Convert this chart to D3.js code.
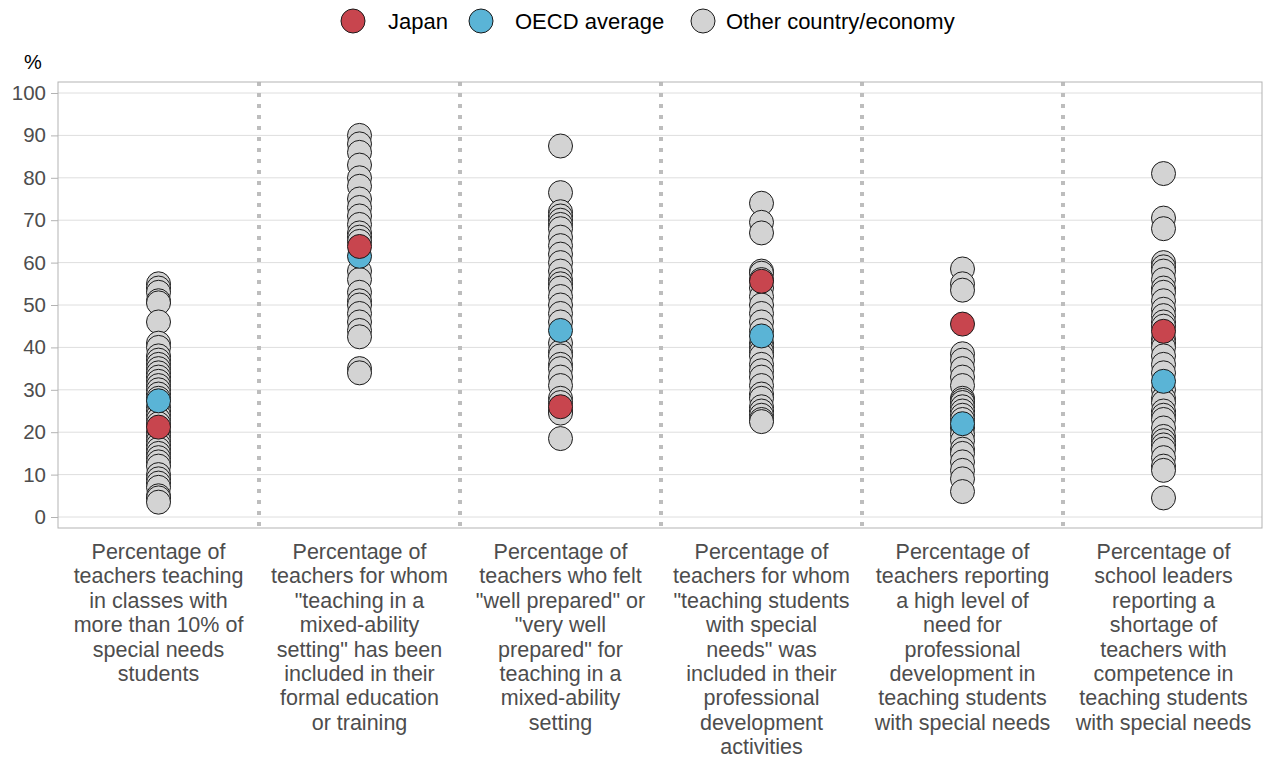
<!DOCTYPE html>
<html><head><meta charset="utf-8">
<script src="https://cdn.jsdelivr.net/npm/d3@7"></script>
<style>body{margin:0;background:#fff}svg{display:block;font-family:"Liberation Sans",Arial,sans-serif}</style>
</head><body>
<svg id="c" width="1263" height="760"></svg>
<script>
const categories = [
  ["Percentage of","teachers teaching","in classes with","more than 10% of","special needs","students"],
  ["Percentage of","teachers for whom","\"teaching in a","mixed-ability","setting\" has been","included in their","formal education","or training"],
  ["Percentage of","teachers who felt","\"well prepared\" or","\"very well","prepared\" for","teaching in a","mixed-ability","setting"],
  ["Percentage of","teachers for whom","\"teaching students","with special","needs\" was","included in their","professional","development","activities"],
  ["Percentage of","teachers reporting","a high level of","need for","professional","development in","teaching students","with special needs"],
  ["Percentage of","school leaders","reporting a","shortage of","teachers with","competence in","teaching students","with special needs"]
];
const otherValues = [
  [55,54,53,51,50.5,46,41,40,38,37,36,35,34,33,32,31,30,29,28,26,25,24,23,22,20,19,18,17,16,15,14,13,12,10,9,8,7,5,4.5,3.5],
  [90,88,86,83,80,78,75,73,71,69,67,66,65,58,56,53,51,50,48,46,44,42.5,35,34],
  [87.5,76.5,72,71,70,69,68,66,64,62,60,58,56,55,54,52,50,48,46,41,39,38,36,35,33,31,28,27,25,24.5,18.5],
  [74,69.5,67,58,57.5,56,54,52,50,48,46,44,41,40,39,38,36,34.5,33,31,29,28,26,25,24,23,22.5],
  [58.5,55,53.5,38.5,37,35,33,31,28,27.5,27,26,25,24,23,21,19.5,18,16,15,13,11,9,6],
  [81,70.5,68,60,59,58,56,54,53,51,49,47.5,46,45,42,41,40,38,36,34,30,28,27,25,24,23,21,19,18,17,16,14,12,11,4.5]
];
const japanValues = [21.2,63.8,26,55.6,45.5,43.8];
const oecdValues = [27.4,61.5,44,42.7,22,32];
const yTicks = [0,10,20,30,40,50,60,70,80,90,100];
const legendLabels = ["Japan","OECD average","Other country/economy"];
const colors = {japan:"#C8454E", oecd:"#5AB4D6", other:"#D3D3D3"};

const svg = d3.select("#c");
const L=58, R=1262, T=82, B=528;
const x = d3.scaleBand().domain(d3.range(categories.length)).range([L,1264]);
const y = d3.scaleLinear().domain([0,100]).range([517,93]);

// gridlines
svg.append("g").selectAll("line").data(yTicks).join("line")
  .attr("x1",L).attr("x2",R).attr("y1",d=>y(d)).attr("y2",d=>y(d))
  .attr("stroke","#dedede").attr("stroke-width",1);

// separators
svg.append("g").selectAll("line").data(d3.range(1,categories.length)).join("line")
  .attr("x1",d=>x(d)).attr("x2",d=>x(d)).attr("y1",T).attr("y2",B)
  .attr("stroke","#bdbdbd").attr("stroke-width",4).attr("stroke-dasharray","4,7");

// border
svg.append("rect").attr("x",L).attr("y",T).attr("width",R-L).attr("height",B-T)
  .attr("fill","none").attr("stroke","#b3b3b3").attr("stroke-width",1);

// y axis
const ya = svg.append("g").attr("transform",`translate(${L},0)`)
  .call(d3.axisLeft(y).tickValues(yTicks).tickSize(7).tickPadding(5));
ya.select(".domain").remove();
ya.selectAll("line").attr("stroke","#b3b3b3");
ya.selectAll("text").attr("fill","#4d4d4d").style("font-size","20.5px");

svg.append("text").attr("x",33).attr("y",69).attr("text-anchor","middle")
  .style("font-size","20px").attr("fill","#000").text("%");

const r = 12;
const cx = i => x(i)+x.bandwidth()/2;
// other points
const pts = [];
otherValues.forEach((arr,i)=>arr.forEach(v=>pts.push({i,v})));
svg.append("g").selectAll("circle").data(pts).join("circle")
  .attr("cx",d=>cx(d.i)).attr("cy",d=>y(d.v)).attr("r",r)
  .attr("fill",colors.other).attr("stroke","#1a1a1a").attr("stroke-width",1);
svg.append("g").selectAll("circle").data(oecdValues).join("circle")
  .attr("cx",(d,i)=>cx(i)).attr("cy",d=>y(d)).attr("r",r)
  .attr("fill",colors.oecd).attr("stroke","#1a1a1a").attr("stroke-width",1);
svg.append("g").selectAll("circle").data(japanValues).join("circle")
  .attr("cx",(d,i)=>cx(i)).attr("cy",d=>y(d)).attr("r",r)
  .attr("fill",colors.japan).attr("stroke","#1a1a1a").attr("stroke-width",1);

// x labels
const xl = svg.append("g");
categories.forEach((lines,i)=>{
  const t = xl.append("text").attr("text-anchor","middle").attr("fill","#4d4d4d").style("font-size","21.5px");
  lines.forEach((s,k)=>t.append("tspan").attr("x",cx(i)).attr("y",559+k*24.4).text(s));
});

// legend
const lg = [{c:colors.japan,x:353,tx:388},{c:colors.oecd,x:481,tx:515},{c:colors.other,x:703,tx:726}];
lg.forEach((d,i)=>{
  svg.append("circle").attr("cx",d.x).attr("cy",21).attr("r",12).attr("fill",d.c).attr("stroke","#1a1a1a");
  svg.append("text").attr("x",d.tx).attr("y",28.5).style("font-size","22px").attr("fill","#000").text(legendLabels[i]);
});
</script>
</body></html>
